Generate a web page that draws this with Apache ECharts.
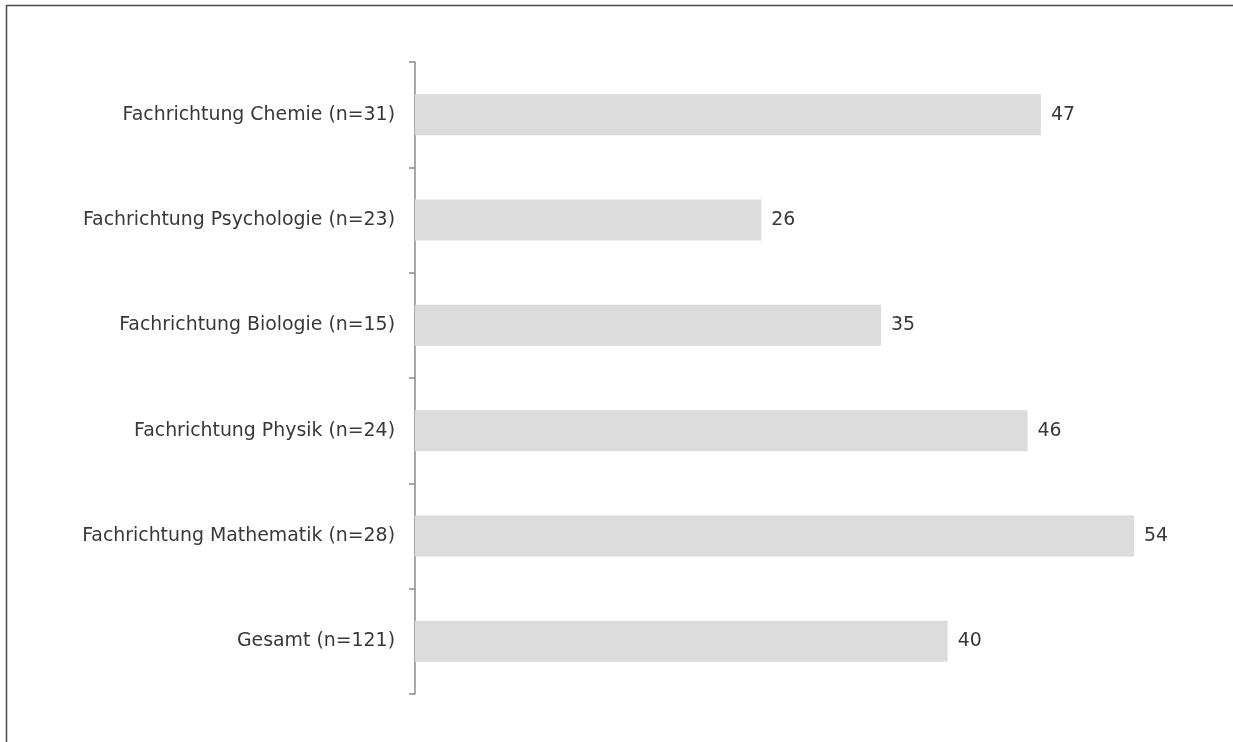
<!DOCTYPE html>
<html>
<head>
<meta charset="utf-8">
<script src="https://cdn.jsdelivr.net/npm/echarts@6/dist/echarts.min.js"></script>
<style>
  html, body { margin: 0; padding: 0; background: #fff; }
  #chart { width: 1233px; height: 742px; }
</style>
</head>
<body>
<div id="chart"></div>
<script>
// Fachrichtungen, top to bottom
const categories = [
  'Fachrichtung Chemie (n=31)',
  'Fachrichtung Psychologie (n=23)',
  'Fachrichtung Biologie (n=15)',
  'Fachrichtung Physik (n=24)',
  'Fachrichtung Mathematik (n=28)',
  'Gesamt (n=121)'
];
const values = [47, 26, 35, 46, 54, 40];

const FONT = 'DejaVu Sans';
const chart = echarts.init(document.getElementById('chart'), null, { renderer: 'canvas' });

chart.setOption({
  animation: false,
  backgroundColor: '#ffffff',
  grid: { left: 415, right: 19, top: 62, bottom: 48 },
  xAxis: {
    type: 'value',
    min: 0,
    max: 60,
    show: false
  },
  yAxis: {
    type: 'category',
    data: categories,
    inverse: true,
    axisLine: { show: true, lineStyle: { color: '#8c8c8c', width: 1.5 } },
    axisTick: { show: true, length: 6, lineStyle: { color: '#8c8c8c', width: 1.5 } },
    axisLabel: { margin: 20, color: '#383838', fontFamily: FONT, fontSize: 18.9 },
    splitLine: { show: false }
  },
  series: [{
    type: 'bar',
    data: values,
    barWidth: 41,
    itemStyle: { color: '#dcdcdc' },
    label: {
      show: true,
      position: 'right',
      distance: 10,
      color: '#383838',
      fontFamily: FONT,
      fontSize: 18.9
    }
  }],
  graphic: [
    { type: 'line', shape: { x1: 6, y1: 5.5, x2: 1233, y2: 5.5 }, style: { stroke: '#4a4a4a', lineWidth: 1.5 } },
    { type: 'line', shape: { x1: 6.5, y1: 5, x2: 6.5, y2: 742 }, style: { stroke: '#4a4a4a', lineWidth: 1.5 } }
  ]
});
</script>
</body>
</html>
